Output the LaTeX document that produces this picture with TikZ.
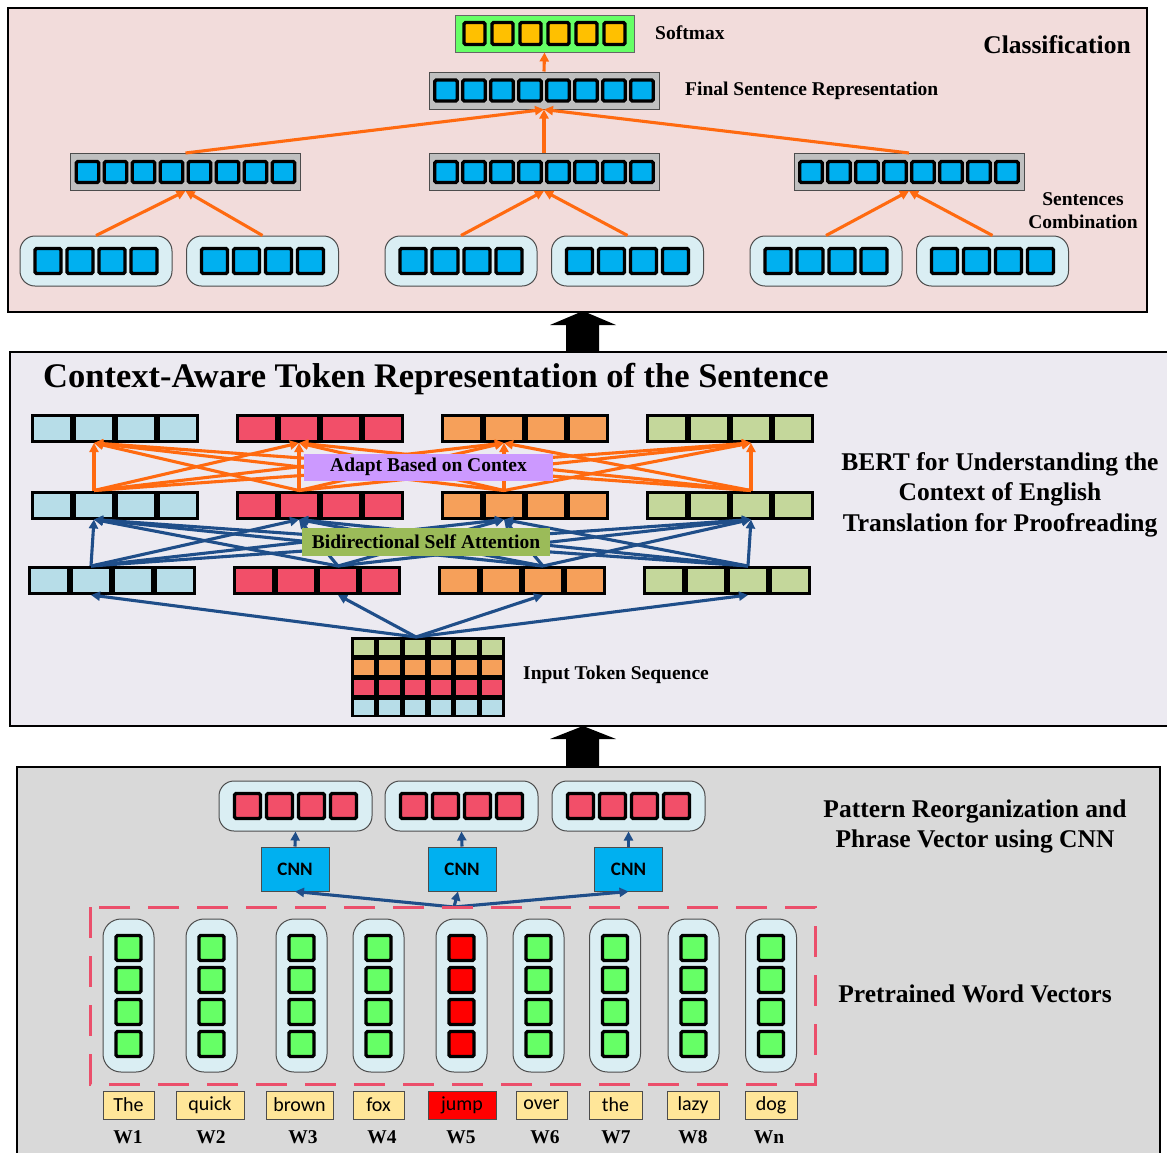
\documentclass[tikz,border=0pt]{standalone}
\usepackage{fontspec}
\setmainfont{Liberation Serif}
\newfontfamily\calib{Carlito}
\usetikzlibrary{arrows.meta,calc}
\definecolor{pinkbg}{HTML}{F2DCDB}
\definecolor{lavbg}{HTML}{ECEAF1}
\definecolor{graybg}{HTML}{D9D9D9}
\definecolor{sqblue}{HTML}{00B0F0}
\definecolor{sqorange}{HTML}{FFC000}
\definecolor{softgreen}{HTML}{66FF66}
\definecolor{boxgray}{HTML}{BFBFBF}
\definecolor{paleblue}{HTML}{DAEEF3}
\definecolor{tokblue}{HTML}{B7DDE8}
\definecolor{tokred}{HTML}{F24F69}
\definecolor{tokorange}{HTML}{F6A05A}
\definecolor{tokgreen}{HTML}{C4D79B}
\definecolor{arrorange}{HTML}{FF6A10}
\definecolor{arrblue}{HTML}{1F4E89}
\definecolor{purplebox}{HTML}{CC99FF}
\definecolor{greenbox}{HTML}{9BBB59}
\definecolor{wordyellow}{HTML}{FFE699}
\definecolor{dashred}{HTML}{EB4F6B}
\definecolor{sqgreen}{HTML}{66FF66}
\definecolor{sqred}{HTML}{FF0000}
\begin{document}
\begin{tikzpicture}[x=1pt,y=-1pt,
  sq/.style={draw=black, line width=3.4pt, rounded corners=1.5pt, inner sep=0pt},
  graybox/.style={draw=black!70, line width=1pt, fill=boxgray, inner sep=0pt, minimum width=230pt, minimum height=37pt},
  pillbox/.style={draw=black!70, line width=1pt, fill=paleblue, rounded corners=15pt, inner sep=0pt},
  tok/.style={draw=black, line width=3pt, inner sep=0pt, minimum width=39pt, minimum height=26pt},
  gridcell/.style={draw=black, line width=2.5pt, inner sep=0pt, minimum width=23pt, minimum height=17.5pt},
  oarr/.style={draw=arrorange, line width=3.1pt, -{Triangle[length=9pt,width=9pt]}},
  barr/.style={draw=arrblue, line width=3.1pt, -{Triangle[length=9pt,width=9pt]}},
  lblS/.style={font=\fontsize{19.5}{23}\selectfont\bfseries, inner sep=0pt},
  lblL/.style={font=\fontsize{25.5}{30.5}\selectfont\bfseries, inner sep=0pt, align=center},
  wordlbl/.style={draw=black!70, line width=1pt, inner sep=0pt, minimum height=28pt, font=\calib\fontsize{20}{24}\selectfont},
  cnnbox/.style={draw=black!70, line width=1pt, fill=sqblue, inner sep=0pt, minimum width=68pt, minimum height=44pt, font=\calib\bfseries\fontsize{19}{22}\selectfont}
]
\clip (0,0) rectangle (1167,1152);
\useasboundingbox (0,0) rectangle (1167,1152);

%% ================= TOP PANEL =================
\draw[line width=2pt, fill=pinkbg] (8,8) rectangle (1147,312);

\node[draw=black!60, line width=1pt, fill=softgreen, inner sep=0pt, minimum width=179pt, minimum height=37pt] (soft) at (544.5,33.5) {};
\foreach \i in {0,...,5}
  \node[sq, fill=sqorange, minimum width=21pt, minimum height=22pt] (soft\i) at ({544.5+(\i-2.5)*28},33.5) {};

\node[graybox] (final) at (544,90.5) {};
\foreach \i in {0,...,7}
  \node[sq, fill=sqblue, minimum width=22.5pt, minimum height=21pt] (final\i) at ({544+(\i-3.5)*28},90.5) {};

\foreach \n/\cx in {1/185.5,2/544,3/909}{
  \node[graybox] (mid\n) at (\cx,172) {};
  \foreach \i in {0,...,7}
    \node[sq, fill=sqblue, minimum width=22.5pt, minimum height=21pt] (mid\n s\i) at ({\cx+(\i-3.5)*28},172) {};
}

\foreach \n/\cx in {1/96,2/262.5,3/461,4/627.5,5/826,6/992.5}{
  \node[pillbox, minimum width=152pt, minimum height=50pt] (leaf\n) at (\cx,261) {};
  \foreach \i in {0,...,3}
    \node[sq, fill=sqblue, minimum width=26pt, minimum height=25pt] (leaf\n s\i) at ({\cx+(\i-1.5)*32},261) {};
}

\draw[oarr] (leaf1.north) -- (mid1.south);
\draw[oarr] (leaf2.north) -- (mid1.south);
\draw[oarr] (leaf3.north) -- (mid2.south);
\draw[oarr] (leaf4.north) -- (mid2.south);
\draw[oarr] (leaf5.north) -- (mid3.south);
\draw[oarr] (leaf6.north) -- (mid3.south);
\draw[oarr] (mid1.north) -- (final.south);
\draw[oarr] (mid2.north) -- (final.south);
\draw[oarr] (mid3.north) -- (final.south);
\draw[oarr] (final.north) -- (soft.south);

\node[lblS, anchor=west] (tsoft) at (655,33) {Softmax};
\node[lblS, anchor=west] (tfinal) at (685,91) {Final Sentence Representation};
\node[lblL] (tclass) at (1057,45) {Classification};
\node[lblS, align=center] (tcomb) at (1083,210.5) {Sentences\\Combination};

%% block arrows between panels
\fill (566,352) -- (566,325) -- (550,325) -- (583,311) -- (616,325) -- (599,325) -- (599,352) -- cycle;

%% ================= MIDDLE PANEL =================
\draw[line width=1.5pt, fill=lavbg] (10,352) rectangle (1180,726);
\node[font=\fontsize{34.5}{40}\selectfont\bfseries, inner sep=0pt, anchor=west] (title) at (43,379) {Context-Aware Token Representation of the Sentence};

\foreach \g/\col/\xa/\xc in {1/tokblue/31/28,2/tokred/236/233,3/tokorange/441/438,4/tokgreen/646/643}{
  \foreach \c in {1,...,4}{
    \node[tok, fill=\col] (A\g\c) at ({\xa+21+42*(\c-1)},428.5) {};
    \node[tok, fill=\col] (B\g\c) at ({\xa+21+42*(\c-1)},505) {};
    \node[tok, fill=\col] (C\g\c) at ({\xc+21+42*(\c-1)},580.5) {};
  }
}

% input token grid
\node[inner sep=0pt, minimum width=154pt, minimum height=80pt] (inp) at (428,677) {};
\foreach \r/\col in {0/tokgreen,1/tokorange,2/tokred,3/tokblue}
  \foreach \c in {0,...,5}
    \node[gridcell, fill=\col] (inp\r\c) at ({351+12.83+25.67*\c},{637+10+20*\r}) {};
\coordinate (inptop) at (416,637);

% orange: adapt based on context
\foreach \s in {B12,B22,B32,B43}
  \foreach \t in {A12,A22,A32,A43}
    \draw[oarr] (\s.north) -- (\t.south);

% blue: bidirectional self attention
\foreach \s in {C12,C23,C33,C43}
  \foreach \t in {B12,B22,B32,B43}
    \draw[barr] (\s.north) -- (\t.south);

\foreach \t in {C12,C23,C33,C43}
  \draw[barr] (inptop) -- (\t.south);

\node[lblS, fill=purplebox, minimum width=249pt, minimum height=27pt] (adapt) at (428.5,467) {Adapt Based on Contex};
\node[lblS, fill=greenbox, minimum width=248pt, minimum height=28pt] (bsa) at (426,542) {Bidirectional Self Attention};

\node[lblS, anchor=west] (tinp) at (523,675) {Input Token Sequence};
\node[lblL] (tbert) at (1000,494.5) {BERT for Understanding the\\Context of English\\Translation for Proofreading};

\fill (566,767) -- (566,739) -- (550,739) -- (583,726) -- (616,739) -- (599,739) -- (599,767) -- cycle;

%% ================= BOTTOM PANEL =================
\draw[line width=1.5pt, fill=graybg] (17,767) rectangle (1160,1170);

\foreach \n/\cx in {1/295.5,2/461.5,3/628.5}{
  \node[pillbox, minimum width=153pt, minimum height=50pt] (pv\n) at (\cx,806) {};
  \foreach \i in {0,...,3}
    \node[sq, fill=tokred, minimum width=26pt, minimum height=25pt] (pv\n s\i) at ({\cx+(\i-1.5)*32},806) {};
}
\node[cnnbox] (cnn1) at (295,869) {CNN};
\node[cnnbox] (cnn2) at (462,869) {CNN};
\node[cnnbox] (cnn3) at (628.5,869) {CNN};
\draw[barr] (cnn1.north) -- (pv1.south);
\draw[barr] (cnn2.north) -- (pv2.south);
\draw[barr] (cnn3.north) -- (pv3.south);
\coordinate (src) at (454,907);
\draw[barr] (src) -- (cnn1.south);
\draw[barr] (src) -- ($(cnn2.south)+(-4,0)$);
\draw[barr] (src) -- (cnn3.south);

\draw[dashred, line width=3pt, dash pattern=on 31pt off 18pt] (90,907) rectangle (815,1084);

\foreach \n/\cx/\col in {1/128.5/sqgreen,2/211.5/sqgreen,3/301.5/sqgreen,4/378.5/sqgreen,5/461.5/sqred,6/538.5/sqgreen,7/615/sqgreen,8/693.5/sqgreen,9/771/sqgreen}{
  \node[pillbox, rounded corners=18pt, minimum width=51pt, minimum height=153pt] (wv\n) at (\cx,995.5) {};
  \foreach \i in {0,...,3}
    \node[sq, fill=\col, minimum width=25pt, minimum height=25pt] (wv\n s\i) at (\cx,{948+32*\i}) {};
}

\foreach \n/\cx/\w/\txt/\col/\wl/\wx in {1/128.5/51/The/wordyellow/W1/128,2/210/68/quick/wordyellow/W2/211,3/299.5/67/brown/wordyellow/W3/303,4/378.5/51/fox/wordyellow/W4/382,5/462/68/jump/sqred/W5/461,6/541.5/51/over/wordyellow/W6/545,7/615.5/53/the/wordyellow/W7/616,8/693/52/lazy/wordyellow/W8/693,9/771/52/dog/wordyellow/Wn/769}{
  \node[wordlbl, fill=\col, minimum width=\w pt] (word\n) at (\cx,1105) {\txt};
  \node[lblS] (wl\n) at (\wx,1137) {\wl};
}

\node[lblL] (tpat) at (975,826.5) {Pattern Reorganization and\\Phrase Vector using CNN};
\node[lblL] (tpre) at (975,994) {Pretrained Word Vectors};
\end{tikzpicture}
\end{document}
